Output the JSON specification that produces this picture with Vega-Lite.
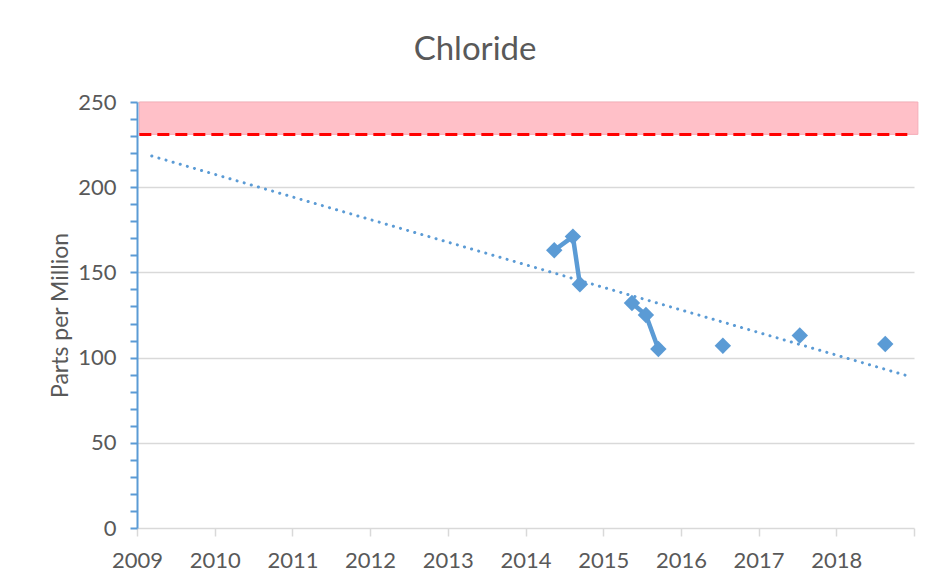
{
  "$schema": "https://vega.github.io/schema/vega-lite/v6.json",
  "autosize": "none",
  "width": 777,
  "height": 426,
  "padding": {"left": 137, "top": 102, "right": 18, "bottom": 58},
  "background": "white",
  "config": {
    "view": {"stroke": null},
    "font": "Lato"
  },
  "title": {
    "text": "Chloride",
    "font": "Lato",
    "fontSize": 33,
    "fontWeight": "normal",
    "color": "#595959",
    "anchor": "middle",
    "frame": "bounds",
    "offset": 24,
    "dx": -9
  },
  "datasets": {
    "samples": [
      {"year": 2014.37, "ppm": 163, "run": "a"},
      {"year": 2014.61, "ppm": 171, "run": "a"},
      {"year": 2014.70, "ppm": 143, "run": "a"},
      {"year": 2015.37, "ppm": 132, "run": "b"},
      {"year": 2015.55, "ppm": 125, "run": "b"},
      {"year": 2015.71, "ppm": 105, "run": "b"},
      {"year": 2016.54, "ppm": 107, "run": "c"},
      {"year": 2017.53, "ppm": 113, "run": "d"},
      {"year": 2018.63, "ppm": 108, "run": "e"}
    ],
    "trend": [
      {"year": 2009.19, "ppm": 218.3},
      {"year": 2018.97, "ppm": 88.6}
    ],
    "band": [
      {"year": 2009.03, "year2": 2019.05, "ppm": 231, "ppm2": 250}
    ],
    "limit": [
      {"year": 2009.03, "year2": 2018.97, "ppm": 231}
    ]
  },
  "encoding": {
    "x": {
      "field": "year",
      "type": "quantitative",
      "scale": {"domain": [2009, 2019], "nice": false, "zero": false},
      "axis": {
        "title": null,
        "values": [2009, 2010, 2011, 2012, 2013, 2014, 2015, 2016, 2017, 2018, 2019],
        "labelExpr": "datum.value == 2019 ? '' : format(datum.value, 'd')",
        "labelOverlap": false,
        "labelFont": "Lato",
        "labelFontSize": 22,
        "labelColor": "#595959",
        "grid": false,
        "domainColor": "#D9D9D9",
        "domainWidth": 1.5,
        "tickColor": "#D9D9D9",
        "tickWidth": 1.5,
        "tickSize": 8,
        "labelPadding": 14,
        "labelFlush": false
      }
    },
    "y": {
      "field": "ppm",
      "type": "quantitative",
      "scale": {"domain": [0, 250], "nice": false, "zero": true},
      "axis": {
        "title": "Parts per Million",
        "values": [0, 10, 20, 30, 40, 50, 60, 70, 80, 90, 100, 110, 120, 130, 140, 150, 160, 170, 180, 190, 200, 210, 220, 230, 240, 250],
        "labelExpr": "datum.value % 50 == 0 ? format(datum.value, 'd') : ''",
        "labelOverlap": false,
        "labelFont": "Lato",
        "labelFontSize": 22,
        "labelColor": "#595959",
        "grid": true,
        "gridColor": "#D9D9D9",
        "gridWidth": 1.5,
        "gridOpacity": {"condition": {"test": "datum.value % 50 == 0 && datum.value > 0", "value": 1}, "value": 0},
        "domainColor": "#5B9BD5",
        "domainWidth": 2,
        "tickColor": "#5B9BD5",
        "tickWidth": 2,
        "tickSize": 7,
        "labelPadding": 14,
        "titleFont": "Lato",
        "titleFontSize": 23,
        "titleFontWeight": "normal",
        "titleColor": "#595959",
        "titlePadding": 5
      }
    }
  },
  "layer": [
    {
      "data": {"name": "band"},
      "mark": {"type": "rect", "color": "#FFC0C8", "stroke": "#F5AEB8", "strokeWidth": 1},
      "encoding": {
        "x2": {"field": "year2"},
        "y2": {"field": "ppm2"}
      }
    },
    {
      "data": {"name": "limit"},
      "mark": {"type": "rule", "color": "#FF0000", "strokeWidth": 3, "strokeDash": [12, 6]},
      "encoding": {
        "x2": {"field": "year2"}
      }
    },
    {
      "data": {"name": "trend"},
      "mark": {"type": "line", "color": "#5B9BD5", "strokeWidth": 3, "strokeDash": [0.1, 7.3], "strokeCap": "round"},
      "encoding": {}
    },
    {
      "data": {"name": "samples"},
      "mark": {"type": "line", "color": "#5B9BD5", "strokeWidth": 4.5},
      "encoding": {
        "detail": {"field": "run"}
      }
    },
    {
      "data": {"name": "samples"},
      "mark": {"type": "point", "shape": "diamond", "filled": true, "color": "#5B9BD5", "opacity": 1, "size": 270},
      "encoding": {}
    }
  ]
}
